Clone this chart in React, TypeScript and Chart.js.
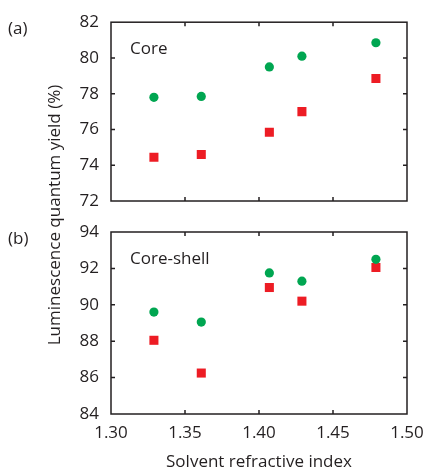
import { useEffect, useRef } from "react";
import { Chart, registerables } from "chart.js";

Chart.register(...registerables);

const refractiveIndex = [1.329, 1.361, 1.407, 1.429, 1.479];
const coreGreen = [77.8, 77.85, 79.5, 80.1, 80.85];
const coreRed = [74.45, 74.6, 75.85, 77.0, 78.85];
const shellGreen = [89.6, 89.05, 91.75, 91.3, 92.5];
const shellRed = [88.05, 86.25, 90.95, 90.2, 92.05];
const xTicks = [1.3, 1.35, 1.4, 1.45, 1.5];
const coreYTicks = [72, 74, 76, 78, 80, 82];
const shellYTicks = [84, 86, 88, 90, 92, 94];
const panelLabels = ["(a)", "(b)"];
const panelNames = ["Core", "Core-shell"];
const xTitle = "Solvent refractive index";
const yTitle = "Luminescence quantum yield (%)";

const GREEN = "#00a651";
const RED = "#ed1c24";
const INK = "#231f20";
const FONT = "'Open Sans', sans-serif";
const FS = 17;

function toPoints(xs: number[], ys: number[]) {
  return xs.map((x, i) => ({ x, y: ys[i] }));
}

function framePlugin(xT: number[], yT: number[]) {
  return {
    id: "frame",
    afterDraw(chart: any) {
      const { ctx, chartArea: a, scales } = chart;
      ctx.save();
      ctx.strokeStyle = INK;
      ctx.lineWidth = 1.5;
      ctx.strokeRect(a.left, a.top, a.right - a.left, a.bottom - a.top);
      ctx.beginPath();
      xT.slice(1, -1).forEach((v) => {
        const px = scales.x.getPixelForValue(v);
        ctx.moveTo(px, a.top);
        ctx.lineTo(px, a.top + 4);
        ctx.moveTo(px, a.bottom);
        ctx.lineTo(px, a.bottom - 4);
      });
      yT.slice(1, -1).forEach((v) => {
        const py = scales.y.getPixelForValue(v);
        ctx.moveTo(a.left, py);
        ctx.lineTo(a.left + 4, py);
        ctx.moveTo(a.right, py);
        ctx.lineTo(a.right - 4, py);
      });
      ctx.stroke();
      ctx.restore();
    },
  };
}

function textPlugin(panel: number, withYTitle: boolean) {
  return {
    id: "texts",
    afterDraw(chart: any) {
      const { ctx, chartArea: a } = chart;
      ctx.save();
      ctx.fillStyle = INK;
      ctx.font = `${FS}px ${FONT}`;
      ctx.textBaseline = "middle";
      ctx.textAlign = "left";
      ctx.fillText(panelLabels[panel], 8, a.top + 7);
      ctx.fillText(panelNames[panel], a.left + 19, a.top + 27);
      if (withYTitle) {
        ctx.translate(55, 215);
        ctx.rotate(-Math.PI / 2);
        ctx.textAlign = "center";
        ctx.fillText(yTitle, 0, 0);
      }
      ctx.restore();
    },
  };
}

function makeConfig(
  green: number[],
  red: number[],
  yTicks: number[],
  panel: number,
  bottom: boolean
): any {
  return {
    type: "scatter",
    data: {
      datasets: [
        {
          data: toPoints(refractiveIndex, green),
          pointStyle: "circle",
          pointRadius: 4.6,
          pointBackgroundColor: GREEN,
          pointBorderWidth: 0,
          borderWidth: 0,
        },
        {
          data: toPoints(refractiveIndex, red),
          pointStyle: "rect",
          pointRadius: 6.4,
          pointBackgroundColor: RED,
          pointBorderWidth: 0,
          borderWidth: 0,
        },
      ],
    },
    options: {
      animation: false,
      responsive: false,
      events: [],
      layout: {
        padding: bottom
          ? { left: 0, right: 18, top: 232, bottom: 0 }
          : { left: 0, right: 18, top: 18, bottom: 271 },
      },
      plugins: {
        legend: { display: false },
        tooltip: { enabled: false },
      },
      scales: {
        x: {
          type: "linear",
          min: xTicks[0],
          max: xTicks[xTicks.length - 1],
          afterBuildTicks: (s: any) => {
            s.ticks = xTicks.map((v) => ({ value: v }));
          },
          afterFit: (s: any) => {
            s.height = bottom ? 58 : 0;
            s.paddingLeft = 0;
            s.paddingRight = 0;
          },
          grid: { display: false, drawTicks: true, tickLength: 9 },
          border: { display: false },
          ticks: {
            display: bottom,
            autoSkip: false,
            maxRotation: 0,
            padding: 0,
            color: INK,
            font: { family: FONT, size: FS },
            callback: (v: any) => Number(v).toFixed(2),
          },
          title: {
            display: bottom,
            text: xTitle,
            color: INK,
            font: { family: FONT, size: FS },
            padding: { top: 0, bottom: 0 },
          },
        },
        y: {
          type: "linear",
          min: yTicks[0],
          max: yTicks[yTicks.length - 1],
          afterBuildTicks: (s: any) => {
            s.ticks = yTicks.map((v) => ({ value: v }));
          },
          afterFit: (s: any) => {
            s.width = 111;
          },
          grid: { display: false, drawTicks: false },
          border: { display: false },
          ticks: {
            autoSkip: false,
            padding: 12,
            color: INK,
            font: { family: FONT, size: FS },
            callback: (v: any) => String(v),
          },
        },
      },
    },
    plugins: [framePlugin(xTicks, yTicks), textPlugin(panel, bottom)],
  };
}

export default function App() {
  const topRef = useRef<HTMLCanvasElement>(null);
  const botRef = useRef<HTMLCanvasElement>(null);

  useEffect(() => {
    const c1 = new Chart(
      topRef.current as HTMLCanvasElement,
      makeConfig(coreGreen, coreRed, coreYTicks, 0, false)
    );
    const c2 = new Chart(
      botRef.current as HTMLCanvasElement,
      makeConfig(shellGreen, shellRed, shellYTicks, 1, true)
    );
    return () => {
      c1.destroy();
      c2.destroy();
    };
  }, []);

  const canvasStyle: any = { position: "absolute", left: 0, top: 0, width: 425, height: 472 };
  return (
    <div style={{ position: "fixed", left: 0, top: 0, width: 425, height: 472, background: "#fff" }}>
      <canvas ref={topRef} width={425} height={472} style={canvasStyle} />
      <canvas ref={botRef} width={425} height={472} style={canvasStyle} />
    </div>
  );
}
